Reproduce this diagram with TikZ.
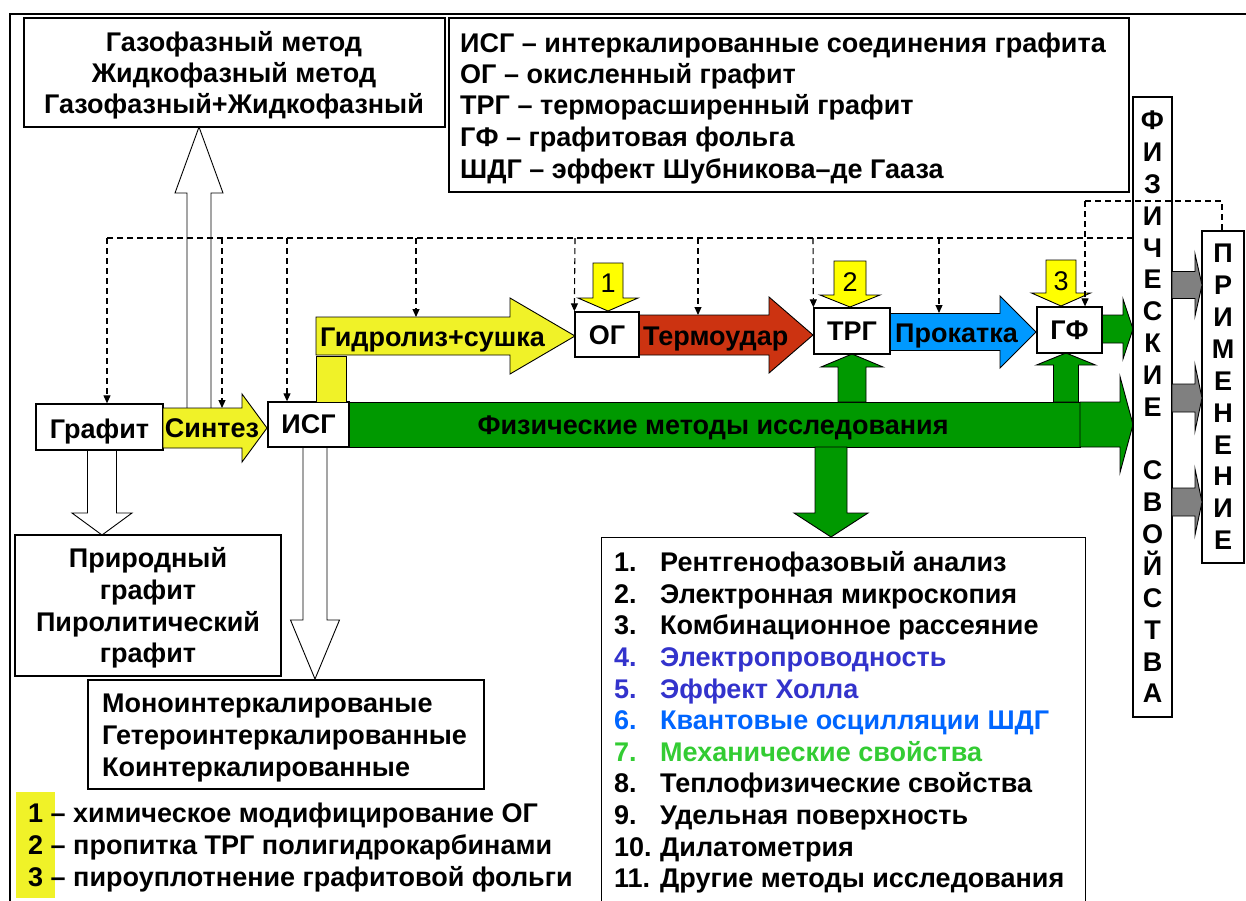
\documentclass[tikz,border=0pt]{standalone}
\usepackage{fontspec}
\setmainfont{Liberation Sans}
\usetikzlibrary{arrows.meta}

\definecolor{ylw}{RGB}{240,242,40}
\definecolor{ylwnum}{RGB}{255,255,0}
\definecolor{redarr}{RGB}{204,51,17}
\definecolor{bluearr}{RGB}{0,153,255}
\definecolor{grn}{RGB}{0,153,0}
\definecolor{gry}{RGB}{128,128,128}
\definecolor{txtviolet}{RGB}{51,51,204}
\definecolor{txtblue}{RGB}{0,102,255}
\definecolor{txtgreen}{RGB}{51,204,51}

\newcommand\fsz{27}
\newcommand\bo{9.6}% baseline below the cap-height centre

% right-pointing block arrow: [style] x0 xtip yc bodyhalf headhalf headlength
\newcommand\rblk[7][]{%
  \filldraw[blk,#1] ({#2},{#4-#5}) -- ({#3-#7},{#4-#5}) -- ({#3-#7},{#4-#6}) -- ({#3},{#4})
    -- ({#3-#7},{#4+#6}) -- ({#3-#7},{#4+#5}) -- ({#2},{#4+#5}) -- cycle;}
% vertical block arrow: [style] xc y0 ytip bodyhalf headhalf headlength (negative = upward)
\newcommand\vblk[7][]{%
  \filldraw[blk,#1] ({#2-#5},{#3}) -- ({#2-#5},{#4-(#7)}) -- ({#2-#6},{#4-(#7)}) -- ({#2},{#4})
    -- ({#2+#6},{#4-(#7)}) -- ({#2+#5},{#4-(#7)}) -- ({#2+#5},{#3}) -- cycle;}

\tikzset{
  box/.style={draw, line width=1.3pt, fill=white, inner sep=0pt},
  tx/.style={font=\bfseries\fontsize{\fsz}{30}\selectfont, inner sep=0pt},
  txn/.style={font=\fontsize{\fsz}{30}\selectfont, inner sep=0pt},
  blk/.style={draw=black, line width=0.9pt},
  dsh/.style={dash pattern=on 6pt off 4pt, line width=1.1pt},
  dsharr/.style={dsh, -{Triangle[length=8pt,width=7pt]}},
}

\begin{document}
\begin{tikzpicture}[x=1pt,y=-1pt,line join=miter]
\useasboundingbox (0,0) rectangle (1246,900);
\clip (0,0) rectangle (1246,900);

% outer frame
\draw[line width=2.6pt] (10,910) -- (10,14) -- (1260,14);

% highlight behind the numbered legend
\fill[ylw] (16,792) rectangle (55,898);

% hollow arrows
\vblk[fill=white]{199}{410}{127}{12}{24}{-66}
\vblk[fill=white]{102}{450}{535}{14.5}{30}{22}
\vblk[fill=white]{315}{447}{679}{12}{24.5}{59}

% boxes
\node[box, minimum width=421, minimum height=109] (meth) at (234.5,72.5) {};
\node[box, minimum width=680, minimum height=174] (abbr) at (789,105) {};
\node[box, minimum width=127, minimum height=46] (gr) at (99.5,427) {};
\node[box, minimum width=81, minimum height=45] (isg) at (308.5,424.5) {};
\node[box, minimum width=266, minimum height=141] (nat) at (148,605.5) {};
\node[box, minimum width=396, minimum height=109] (mono) at (286,734.5) {};
\node[box, minimum width=484, minimum height=390, anchor=north west] (meths) at (601,537) {};

% synthesis arrow
\rblk[fill=ylw]{163}{267}{428}{20}{34}{25}
% hydrolysis + drying
\filldraw[blk,fill=ylw] (316,356) rectangle (346,402);
\rblk[fill=ylw]{316}{575}{336}{19}{38}{65}
% thermal shock
\rblk[fill=redarr]{639}{813}{335}{20}{38}{44}
% rolling
\rblk[fill=bluearr]{890}{1036}{332}{18.5}{36}{36}

% physical methods bar
\filldraw[blk,fill=grn] (349,402) rectangle (1080,447);
\rblk[fill=grn]{1080}{1133}{424.5}{22.5}{48}{13}
\vblk[fill=grn]{852}{402}{354}{14}{31}{-13}
\vblk[fill=grn]{1066}{402}{353}{12.5}{29.5}{-12}
\vblk[fill=grn]{831}{447}{537}{16}{37}{24}
\rblk[fill=grn]{1102}{1133}{329}{14}{30}{10}

% process boxes
\node[box, minimum width=64, minimum height=45] (og) at (607,334.5) {};
\node[box, minimum width=76, minimum height=46] (trg) at (852,331) {};
\node[box, minimum width=65, minimum height=46] (gf) at (1069.5,330) {};

% numbered modification arrows
\vblk[fill=ylwnum]{608}{263}{311}{15}{30}{13}
\vblk[fill=ylwnum]{850}{261}{307}{16}{30}{12}
\vblk[fill=ylwnum]{1061}{260}{306}{15}{29.5}{13}
\node[txn, anchor=base] (n1) at (608,{283+\bo}) {1};
\node[txn, anchor=base] (n2) at (850,{282+\bo}) {2};
\node[txn, anchor=base] (n3) at (1061,{281+\bo}) {3};

% properties and applications columns
\node[box, minimum width=39, minimum height=620] (props) at (1152.5,407) {};
\node[box, minimum width=42, minimum height=332] (appl) at (1223,397) {};
\rblk[fill=gry]{1172}{1202}{285}{13.5}{31}{7}
\rblk[fill=gry]{1172}{1202}{398}{14}{33}{7}
\rblk[fill=gry]{1172}{1202}{502}{14}{33}{7}
\foreach \c [count=\i from 0] in {Ф,И,З,И,Ч,Е,С,К,И,Е,{},С,В,О,Й,С,Т,В,А}
  \node[tx, anchor=base] (pl\i) at (1152.5,{120+31.85*\i+\bo}) {\c};
\foreach \c [count=\i from 0] in {П,Р,И,М,Е,Н,Е,Н,И,Е}
  \node[tx, anchor=base] (al\i) at (1223,{253+31.9*\i+\bo}) {\c};

% dashed feedback lines
\coordinate (d1) at (107,238);
\coordinate (d2) at (222,238);
\coordinate (d3) at (287,238);
\coordinate (d4) at (416,238);
\coordinate (d5) at (575,238);
\coordinate (d6) at (698,238);
\coordinate (d7) at (813,238);
\coordinate (d8) at (939,238);
\coordinate (hydtop) at (416,317);
\coordinate (synthtop) at (222,408);
\coordinate (thermtop) at (698,315);
\coordinate (rolltop) at (939,313);
\draw[dsh] (d1) -- (props.west |- d1);
\draw[dsharr] (d1) -- (d1 |- gr.north);
\draw[dsharr] (d2) -- (synthtop);
\draw[dsharr] (d3) -- (d3 |- isg.north);
\draw[dsharr] (d4) -- (hydtop);
\draw[dsharr] (d5) -- (og.north west);
\draw[dsharr] (d6) -- (thermtop);
\draw[dsharr] (d7) -- (trg.north west);
\draw[dsharr] (d8) -- (rolltop);
\coordinate (e1) at (1085,201);
\coordinate (e2) at (1222,201);
\draw[dsharr] (e1) -- (e1 |- gf.north);
\draw[dsh] (e1) -- (e2) -- (e2 |- appl.north);

% texts
\node[tx, anchor=base] (m1) at (234,{42+\bo}) {Газофазный метод};
\node[tx, anchor=base] (m2) at (234,{73+\bo}) {Жидкофазный метод};
\node[tx, anchor=base] (m3) at (234,{104+\bo}) {Газофазный+Жидкофазный};

\node[tx, anchor=base west] (a1) at (460,{43+\bo}) {ИСГ – интеркалированные соединения графита};
\node[tx, anchor=base west] (a2) at (460,{74+\bo}) {ОГ – окисленный графит};
\node[tx, anchor=base west] (a3) at (460,{105+\bo}) {ТРГ – терморасширенный графит};
\node[tx, anchor=base west] (a4) at (460,{137+\bo}) {ГФ – графитовая фольга};
\node[tx, anchor=base west] (a5) at (460,{169+\bo}) {ШДГ – эффект Шубникова–де Гааза};

\node[tx, anchor=base] (tgr) at (99.5,{429+\bo}) {Графит};
\node[tx, anchor=base] (tsyn) at (212,{428+\bo}) {Синтез};
\node[tx, anchor=base] (tisg) at (308.5,{424+\bo}) {ИСГ};
\node[tx, anchor=base west] (thyd) at (320,{337+\bo}) {Гидролиз+сушка};
\node[tx, anchor=base] (tog) at (607,{335+\bo}) {ОГ};
\node[tx, anchor=base west] (tth) at (643,{336+\bo}) {Термоудар};
\node[tx, anchor=base] (ttrg) at (852,{331+\bo}) {ТРГ};
\node[tx, anchor=base west] (troll) at (895,{333+\bo}) {Прокатка};
\node[tx, anchor=base] (tgf) at (1069.5,{330+\bo}) {ГФ};
\node[tx, anchor=base] (tphys) at (713,{425+\bo}) {Физические методы исследования};

\node[tx, anchor=base] (nat1) at (148,{558+\bo}) {Природный};
\node[tx, anchor=base] (nat2) at (148,{590+\bo}) {графит};
\node[tx, anchor=base] (nat3) at (148,{622+\bo}) {Пиролитический};
\node[tx, anchor=base] (nat4) at (148,{653+\bo}) {графит};

\node[tx, anchor=base west] (mono1) at (102,{703+\bo}) {Моноинтеркалированые};
\node[tx, anchor=base west] (mono2) at (102,{735+\bo}) {Гетероинтеркалированные};
\node[tx, anchor=base west] (mono3) at (102,{767+\bo}) {Коинтеркалированные};

\node[tx, anchor=base west] (k1) at (28,{813+\bo}) {1 – химическое модифицирование ОГ};
\node[tx, anchor=base west] (k2) at (28,{845+\bo}) {2 – пропитка ТРГ полигидрокарбинами};
\node[tx, anchor=base west] (k3) at (28,{877+\bo}) {3 – пироуплотнение графитовой фольги};

\foreach \n/\t/\c [count=\i from 0] in {
    1./Рентгенофазовый анализ/black,
    2./Электронная микроскопия/black,
    3./Комбинационное рассеяние/black,
    4./Электропроводность/txtviolet,
    5./Эффект Холла/txtviolet,
    6./Квантовые осцилляции ШДГ/txtblue,
    7./Механические свойства/txtgreen,
    8./Теплофизические свойства/black,
    9./Удельная поверхность/black,
    10./Дилатометрия/black,
    11./Другие методы исследования/black} {
  \node[tx, text=\c, anchor=base west] (ln\i) at (614,{562+31.6*\i+\bo}) {\n};
  \node[tx, text=\c, anchor=base west] (lt\i) at (660,{562+31.6*\i+\bo}) {\t};
}
\end{tikzpicture}
\end{document}
